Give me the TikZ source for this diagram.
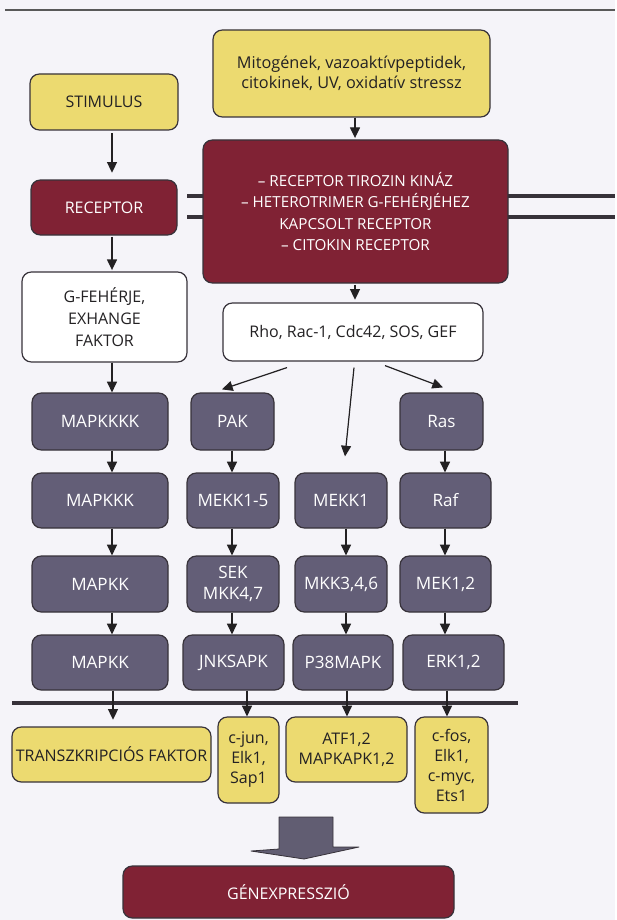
\documentclass[tikz,border=0pt]{standalone}
\usepackage{fontspec}
\setmainfont{Open Sans}
\usetikzlibrary{arrows.meta,calc}

\definecolor{hatter}{RGB}{245,244,249}
\definecolor{sarga}{RGB}{236,218,112}
\definecolor{bordo}{RGB}{128,34,52}
\definecolor{lila}{RGB}{99,94,119}
\definecolor{keret}{RGB}{55,50,58}
\definecolor{szoveg}{RGB}{35,33,35}

\tikzset{every picture/.style={line width=0.75pt}}
\tikzset{
  doboz/.style={draw=keret, line width=0.9pt, rounded corners=7pt, align=center, inner sep=0pt,
    font=\fontsize{12}{15.5}\selectfont},
  meret/.style 2 args={minimum width=#1*0.75pt, minimum height=#2*0.75pt},
  sargadoboz/.style={doboz, fill=sarga, text=szoveg},
  bordodoboz/.style={doboz, fill=bordo, text=white},
  liladoboz/.style={doboz, fill=lila, text=white, font=\fontsize{12.8}{15.5}\selectfont},
  feherdoboz/.style={doboz, fill=white, text=szoveg},
  nyil/.style={-{Triangle[width=7.5pt,length=8pt]}, line width=0.9pt, draw=szoveg, fill=szoveg},
  membran/.style={line width=2.3pt, draw=keret},
}

\begin{document}
\begin{tikzpicture}[x=0.75pt,y=0.75pt,yscale=-1,xscale=1]
        % background and page rule
        \fill[hatter] (0,0) rectangle (615,920);
        \draw[line width=1.1pt, draw=black!65] (5,10) -- (615,10);

        % column positions of the arrows
        \coordinate (k1) at (112,0);
        \coordinate (k2) at (232,0);
        \coordinate (k3) at (346,0);
        \coordinate (k4) at (445,0);
        \coordinate (kr) at (355,0);
        \coordinate (t1) at (113,0);
        \coordinate (t2) at (247,0);
        \coordinate (t3) at (347,0);
        \coordinate (t4) at (447,0);

        % membrane
        \draw[membran] (187,196) -- (203,196);
        \draw[membran] (187,217) -- (203,217);
        \draw[membran] (508,196) -- (615,196);
        \draw[membran] (508,217) -- (615,217);

        % Top boxes
        \node[sargadoboz, meret={148}{56}] (stim) at (104,102) {STIMULUS};
        \node[sargadoboz, meret={277}{87}, font=\fontsize{12.2}{15}\selectfont] (mito) at (351.5,73.5) {Mitogének, vazoaktívpeptidek,\\citokinek, UV, oxidatív stressz};
        \node[bordodoboz, meret={146}{55}] (rec) at (104,207.5) {RECEPTOR};
        \node[bordodoboz, meret={305}{143}, font=\fontsize{11.4}{16}\selectfont] (rtk) at (355.5,211.5) {– RECEPTOR TIROZIN KINÁZ\\– HETEROTRIMER G-FEHÉRJÉHEZ\\KAPCSOLT RECEPTOR\\– CITOKIN RECEPTOR};
        \node[feherdoboz, meret={165}{90}, font=\fontsize{12}{16.5}\selectfont] (gfeh) at (104.5,317) {G-FEHÉRJE,\\EXHANGE\\FAKTOR};
        \node[feherdoboz, meret={260}{58}] (rho) at (353,332) {Rho, Rac-1, Cdc42, SOS, GEF};

        % Kinase rows
        \node[liladoboz, meret={136}{57}] (mapkkkk) at (100,421.5) {MAPKKKK};
        \node[liladoboz, meret={83}{57}] (pak) at (232.5,421.5) {PAK};
        \node[liladoboz, meret={83}{57}] (ras) at (441.5,421.5) {Ras};

        \node[liladoboz, meret={136}{55}] (mapkkk) at (100,500.5) {MAPKKK};
        \node[liladoboz, meret={92}{55}] (mekka) at (233,500.5) {MEKK1-5};
        \node[liladoboz, meret={92}{55}] (mekkb) at (341,500.5) {MEKK1};
        \node[liladoboz, meret={91}{55}] (raf) at (445.5,500.5) {Raf};

        \node[liladoboz, meret={136}{56}] (mapkka) at (100,584) {MAPKK};
        \node[liladoboz, meret={92}{56}] (sek) at (233,584) {SEK\\MKK4,7};
        \node[liladoboz, meret={92}{56}] (mkk) at (341,584) {MKK3,4,6};
        \node[liladoboz, meret={91}{56}] (mek) at (445.5,584) {MEK1,2};

        \node[liladoboz, meret={136}{55}] (mapkkb) at (100,662.5) {MAPKK};
        \node[liladoboz, meret={101}{55}] (jnk) at (233.5,662.5) {JNKSAPK};
        \node[liladoboz, meret={100}{55}] (p38) at (343,662.5) {P38MAPK};
        \node[liladoboz, meret={101}{55}] (erk) at (453.5,662.5) {ERK1,2};

        % nucleus line
        \draw[line width=2.5pt, draw=keret] (12,703) -- (518,703);

        % Transcription factors
        \node[sargadoboz, meret={199}{55}] (tf) at (111.5,754.5) {TRANSZKRIPCIÓS FAKTOR};
        \node[sargadoboz, meret={61}{86}, font=\fontsize{12}{15}\selectfont] (cjun) at (248.5,760) {c-jun,\\Elk1,\\Sap1};
        \node[sargadoboz, meret={121}{65}, font=\fontsize{12}{15}\selectfont] (atf) at (346.5,749.5) {ATF1,2\\MAPKAPK1,2};
        \node[sargadoboz, meret={73}{96}, font=\fontsize{12}{15}\selectfont] (cfos) at (451.5,765) {c-fos,\\Elk1,\\c-myc,\\Ets1};

        \node[bordodoboz, meret={331}{52}] (gen) at (288.5,892) {GÉNEXPRESSZIÓ};

        % Block arrow
        \draw[fill=lila!90!black!95, draw=keret, line width=0.6pt, line join=round] (279,817) -- (333,817) -- (333,847) -- (359,847) -- (304,859) -- (251,851) -- (279,849) -- cycle;

        % Arrows
        \draw[nyil, shorten <=2pt, shorten >=5pt] (stim.south -| k1) -- (rec.north -| k1);
        \draw[nyil, shorten <=1pt, shorten >=1pt] (rec.south -| k1) -- (gfeh.north -| k1);
        \draw[nyil] (gfeh.south -| k1) -- (mapkkkk.north -| k1);
        \draw[nyil] (mapkkkk.south -| k1) -- (mapkkk.north -| k1);
        \draw[nyil] (mapkkk.south -| k1) -- (mapkka.north -| k1);
        \draw[nyil] (mapkka.south -| k1) -- (mapkkb.north -| k1);

        \draw[nyil, shorten >=1pt] (mito.south -| kr) -- (rtk.north -| kr);
        \draw[nyil, shorten <=1pt, shorten >=2pt] (rtk.south -| kr) -- (rho.north -| kr);

        \draw[nyil] ($(rho.south)+(-66,6)$) -- ($(pak.north)+(-10.5,-3)$);
        \draw[nyil] ($(rho.south)+(1,6)$) -- ($(mekkb.north)+(4,-16)$);
        \draw[nyil] ($(rho.south)+(32,4)$) -- ($(ras.north)+(1.5,-5)$);

        \draw[nyil] (pak.south -| k2) -- (mekka.north -| k2);
        \draw[nyil] (mekka.south -| k2) -- (sek.north -| k2);
        \draw[nyil] (sek.south -| k2) -- (jnk.north -| k2);

        \draw[nyil] (mekkb.south -| k3) -- (mkk.north -| k3);
        \draw[nyil] (mkk.south -| k3) -- (p38.north -| k3);

        \draw[nyil] (ras.south -| k4) -- (raf.north -| k4);
        \draw[nyil] (raf.south -| k4) -- (mek.north -| k4);
        \draw[nyil] (mek.south -| k4) -- (erk.north -| k4);

        \draw[nyil, shorten >=5pt] (mapkkb.south -| t1) -- (tf.north -| t1);
        \draw[nyil] (jnk.south -| t2) -- (cjun.north -| t2);
        \draw[nyil] (p38.south -| t3) -- (atf.north -| t3);
        \draw[nyil] (erk.south -| t4) -- (cfos.north -| t4);

    \end{tikzpicture}
\end{document}
